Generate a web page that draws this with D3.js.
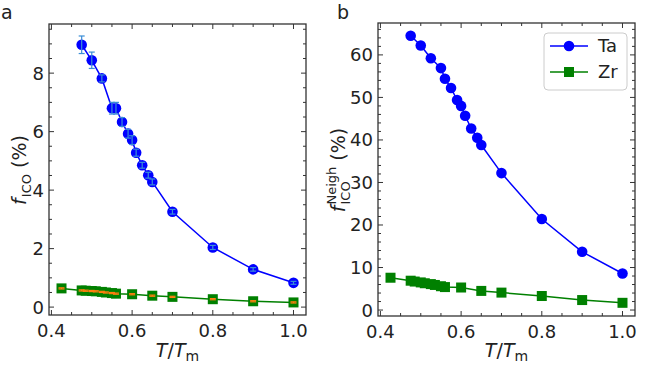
<!DOCTYPE html>
<html><head><meta charset="utf-8">
<script src="https://cdn.jsdelivr.net/npm/d3@7"></script>
<style>
body{margin:0;background:#fff;}
text{font-family:"DejaVu Sans",sans-serif;fill:#222;}
</style></head>
<body><svg id="c" width="651" height="374"></svg>
<script>
// ---------- data ----------
const xTa = [0.475,0.5,0.525,0.55,0.56,0.575,0.59,0.6,0.61,0.625,0.64,0.65,0.7,0.8,0.9,1.0];
const taICO = [8.97,8.44,7.82,6.80,6.80,6.33,5.93,5.71,5.28,4.85,4.51,4.28,3.26,2.04,1.29,0.83];
const taICOerr = [0.30,0.28,0.12,0.20,0.20,0.15,0.15,0.15,0.12,0.10,0.10,0.10,0.08,0.07,0.06,0.05];
const taNeigh = [64.5,62.2,59.2,56.9,54.4,52.2,49.4,48.0,45.7,42.7,40.5,38.8,32.2,21.4,13.7,8.6];
const xZr = [0.425,0.475,0.485,0.5,0.51,0.525,0.535,0.55,0.56,0.6,0.65,0.7,0.8,0.9,1.0];
const zrICO = [0.64,0.57,0.56,0.55,0.54,0.52,0.50,0.48,0.46,0.44,0.39,0.35,0.27,0.20,0.16];
const zrICOerr = [0.02,0.02,0.02,0.02,0.02,0.02,0.02,0.02,0.02,0.02,0.02,0.02,0.02,0.02,0.02];
const zrNeigh = [7.6,6.9,6.7,6.5,6.3,6.1,5.9,5.6,5.4,5.3,4.5,4.1,3.3,2.35,1.7];
const xTicks = [0.4,0.6,0.8,1.0];
const yTicksA = [0,2,4,6,8];
const yTicksB = [0,10,20,30,40,50,60];
const seriesNames = ["Ta","Zr"];

const svg = d3.select("#c");
const TA = "#0000ff", ZR = "#008000", TAERR = "#3b8ed6", ZRERR = "#ff7f0e";

function panel(o){
  const g = svg.append("g");
  const x = d3.scaleLinear().domain([0.394,1.031]).range([o.left,o.right]);
  const y = d3.scaleLinear().domain(o.ydom).range([o.bottom,o.top]);
  const minorX = d3.range(0.4,1.0001,0.05).filter(v=>!xTicks.some(t=>Math.abs(t-v)<1e-6));
  const minorY = d3.range(0, o.ydom[1], o.minorStep).filter(v=>!o.yTicks.some(t=>Math.abs(t-v)<1e-6));
  const tk = g.append("g").attr("stroke","#333").attr("stroke-width",1);
  xTicks.forEach(v=>{
    tk.append("line").attr("x1",x(v)).attr("x2",x(v)).attr("y1",o.bottom).attr("y2",o.bottom-5);
    tk.append("line").attr("x1",x(v)).attr("x2",x(v)).attr("y1",o.top).attr("y2",o.top+5);
  });
  minorX.forEach(v=>{
    tk.append("line").attr("x1",x(v)).attr("x2",x(v)).attr("y1",o.bottom).attr("y2",o.bottom-3);
    tk.append("line").attr("x1",x(v)).attr("x2",x(v)).attr("y1",o.top).attr("y2",o.top+3);
  });
  o.yTicks.forEach(v=>{
    tk.append("line").attr("y1",y(v)).attr("y2",y(v)).attr("x1",o.left).attr("x2",o.left+5);
    tk.append("line").attr("y1",y(v)).attr("y2",y(v)).attr("x1",o.right).attr("x2",o.right-5);
  });
  minorY.forEach(v=>{
    tk.append("line").attr("y1",y(v)).attr("y2",y(v)).attr("x1",o.left).attr("x2",o.left+3);
    tk.append("line").attr("y1",y(v)).attr("y2",y(v)).attr("x1",o.right).attr("x2",o.right-3);
  });
  xTicks.forEach(v=>g.append("text").attr("x",x(v)).attr("y",o.bottom+22).attr("text-anchor","middle")
    .attr("font-size",18).text(v.toFixed(1)));
  o.yTicks.forEach(v=>g.append("text").attr("x",o.left-5).attr("y",y(v)+6.5).attr("text-anchor","end")
    .attr("font-size",18).text(v));
  g.append("rect").attr("x",o.left).attr("y",o.top).attr("width",o.right-o.left).attr("height",o.bottom-o.top)
    .attr("fill","none").attr("stroke","#333").attr("stroke-width",1.3);
  const xl = g.append("text").attr("x",(o.left+o.right)/2).attr("y",357).attr("text-anchor","middle").attr("font-size",19);
  xl.append("tspan").attr("font-style","italic").text("T");
  xl.append("tspan").text("/");
  xl.append("tspan").attr("font-style","italic").text("T");
  xl.append("tspan").attr("font-size",14).attr("dy",4).text("m");
  g.append("text").attr("x",o.letterX).attr("y",19).attr("font-size",19).text(o.letter);

  const line = d3.line().x(d=>x(d[0])).y(d=>y(d[1]));
  const zr = xZr.map((v,i)=>[v,o.zr[i]]);
  g.append("path").attr("d",line(zr)).attr("fill","none").attr("stroke",ZR).attr("stroke-width",1.5);
  g.selectAll(null).data(zr).join("rect").attr("x",d=>x(d[0])-5).attr("y",d=>y(d[1])-5)
    .attr("width",10).attr("height",10).attr("fill",ZR);
  const ta = xTa.map((v,i)=>[v,o.ta[i]]);
  g.append("path").attr("d",line(ta)).attr("fill","none").attr("stroke",TA).attr("stroke-width",1.5);
  g.selectAll(null).data(ta).join("circle").attr("cx",d=>x(d[0])).attr("cy",d=>y(d[1])).attr("r",5.3).attr("fill",TA);
  function err(xs,vals,errs,col){
    xs.forEach((v,i)=>{
      const cx=x(v), y0=y(vals[i]-errs[i]), y1=y(vals[i]+errs[i]);
      g.append("line").attr("x1",cx).attr("x2",cx).attr("y1",y0).attr("y2",y1).attr("stroke",col).attr("stroke-width",1.2);
      [y0,y1].forEach(yy=>g.append("line").attr("x1",cx-3).attr("x2",cx+3).attr("y1",yy).attr("y2",yy).attr("stroke",col).attr("stroke-width",1.2));
    });
  }
  if(o.taErr) err(xTa,o.ta,o.taErr,TAERR);
  if(o.zrErr) err(xZr,o.zr,o.zrErr,ZRERR);
  return {g,x,y};
}

const A = panel({left:49,right:306,top:24,bottom:315,ydom:[-0.27,9.68],yTicks:yTicksA,minorStep:0.5,
  ta:taICO,zr:zrICO,taErr:taICOerr,zrErr:zrICOerr,letter:"a",letterX:1});
const B = panel({left:378,right:635,top:23,bottom:316,ydom:[-1.4,67.5],yTicks:yTicksB,minorStep:2,
  ta:taNeigh,zr:zrNeigh,letter:"b",letterX:337});

function ylabel(cx,cy,sup){
  const gg = svg.append("g").attr("transform",`translate(${cx},${cy}) rotate(-90)`);
  const parts = gg.append("g");
  const f = parts.append("text").attr("font-size",19).attr("font-style","italic").attr("font-family","'DejaVu Serif',serif").text("f");
  let w = f.node().getComputedTextLength()+1;
  const sub = parts.append("text").attr("x",w).attr("y",5).attr("font-size",13).attr("font-family","'DejaVu Serif',serif").text("ICO");
  let ws = sub.node().getComputedTextLength();
  if(sup){
    const sp = parts.append("text").attr("x",w).attr("y",-9).attr("font-size",13).text(sup);
    ws = Math.max(ws, sp.node().getComputedTextLength());
  }
  w += ws + 6;
  const p = parts.append("text").attr("x",w).attr("y",0).attr("font-size",19).text("(%)");
  w += p.node().getComputedTextLength();
  parts.attr("transform",`translate(${-w/2},0)`);
}
ylabel(26,170,null);
ylabel(345,170,"Neigh");

const lg = svg.append("g").attr("transform","translate(544,33)");
lg.append("rect").attr("width",83).attr("height",57).attr("rx",4).attr("fill","#fff").attr("stroke","#ccc");
seriesNames.forEach((n,i)=>{
  const yy = 13+i*26;
  lg.append("line").attr("x1",6).attr("x2",44).attr("y1",yy).attr("y2",yy).attr("stroke",i?ZR:TA).attr("stroke-width",1.5);
  if(i===0) lg.append("circle").attr("cx",25).attr("cy",yy).attr("r",5.3).attr("fill",TA);
  else lg.append("rect").attr("x",20).attr("y",yy-5).attr("width",10).attr("height",10).attr("fill",ZR);
  lg.append("text").attr("x",54).attr("y",yy+6).attr("font-size",18).text(n);
});
</script></body></html>
